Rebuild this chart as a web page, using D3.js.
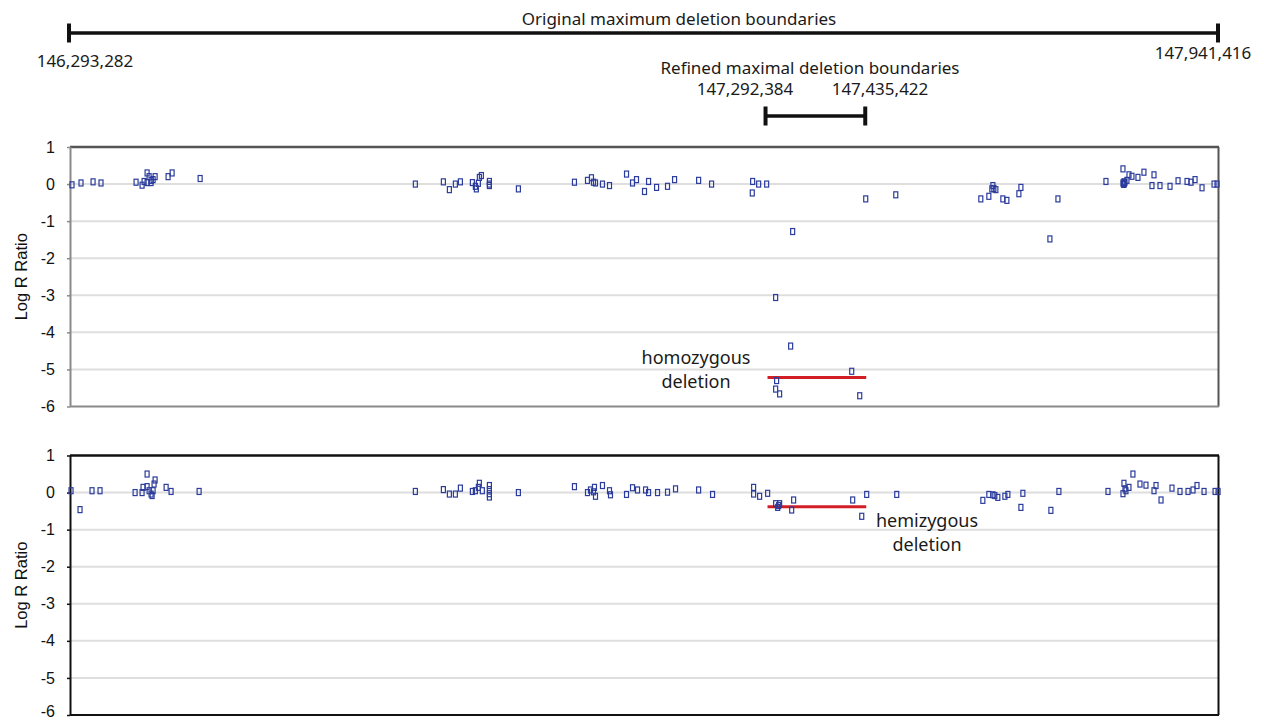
<!DOCTYPE html>
<html><head><meta charset="utf-8">
<script src="https://cdn.jsdelivr.net/npm/d3@7"></script>
<style>body{margin:0;background:#fff}</style>
</head><body>
<svg id="c" width="1264" height="723"></svg>
<script>
// Genomic range (bp)
const originalBounds = [146293282, 147941416];
const refinedBounds = [147292384, 147435422];
const yTicks = [1, 0, -1, -2, -3, -4, -5, -6];

// Top sample: positions (Mb) and Log R Ratio
const topPos = [146.2976,146.3105,146.3278,146.3392,146.3895,146.3981,146.4010,146.4053,146.4053,146.4082,146.4110,146.4110,146.4139,146.4168,146.4354,146.4412,146.4814,
146.7901,146.8303,146.8389,146.8475,146.8547,146.8719,146.8762,146.8776,146.8805,146.8819,146.8848,146.8963,146.8963,146.8963,146.9379,
147.0183,147.0370,147.0427,147.0456,147.0485,147.0585,147.0686,147.0930,147.1016,147.1073,147.1188,147.1246,147.1361,147.1518,147.1619,147.1964,147.2150,
147.2739,147.2734,147.2825,147.2940,147.3069,147.3083,147.3069,147.3126,147.3284,147.3313,147.4160,147.4275,147.4361,147.4792,
147.6012,147.6127,147.6170,147.6185,147.6199,147.6228,147.6328,147.6386,147.6558,147.6587,147.7003,147.7118,
147.7807,147.8051,147.8051,147.8065,147.8080,147.8108,147.8137,147.8180,147.8266,147.8352,147.8467,147.8496,147.8582,147.8726,147.8841,147.8970,147.9027,147.9085,147.9185,147.9357,147.9400,
147.8058,147.8072,147.8065];
const topLRR = [-0.02,0.03,0.06,0.03,0.05,-0.03,0.07,0.30,0.04,0.20,0.04,0.10,0.12,0.20,0.20,0.30,0.15,
0.00,0.06,-0.15,0.00,0.06,0.04,-0.06,-0.13,0.02,0.18,0.23,0.07,0.00,-0.04,-0.13,
0.05,0.10,0.17,0.05,0.03,0.00,-0.04,0.27,0.03,0.12,-0.20,0.07,-0.09,-0.06,0.12,0.10,0.00,
0.07,-0.24,0.00,0.00,-3.06,-5.30,-5.53,-5.66,-4.37,-1.28,-5.05,-5.71,-0.40,-0.29,
-0.40,-0.33,-0.13,-0.04,-0.12,-0.15,-0.40,-0.44,-0.26,-0.09,-1.48,-0.40,
0.07,0.41,0.03,-0.01,0.05,0.10,0.25,0.21,0.18,0.32,-0.04,0.25,-0.04,-0.06,0.09,0.07,0.05,0.12,-0.10,0.00,0.00,
0.00,0.02,0.06];

// Bottom sample
const botPos = [146.2962,146.3091,146.3263,146.3378,146.3881,146.3981,146.3995,146.4053,146.4053,146.4082,146.4110,146.4125,146.4139,146.4153,146.4168,146.4326,146.4397,146.4799,
146.7901,146.8303,146.8389,146.8475,146.8547,146.8719,146.8762,146.8805,146.8819,146.8862,146.8963,146.8963,146.8963,146.8963,146.9379,
147.0183,147.0370,147.0413,147.0456,147.0470,147.0485,147.0585,147.0686,147.0700,147.0930,147.1016,147.1088,147.1203,147.1246,147.1375,147.1518,147.1633,147.1964,147.2164,
147.2753,147.2753,147.2839,147.2954,147.3069,147.3098,147.3112,147.3126,147.3299,147.3327,147.4174,147.4304,147.4375,147.4806,
147.6041,147.6127,147.6185,147.6213,147.6256,147.6357,147.6400,147.6615,147.6587,147.7017,147.7132,
147.7836,147.8051,147.8065,147.8080,147.8094,147.8137,147.8194,147.8295,147.8381,147.8496,147.8525,147.8597,147.8754,147.8869,147.8984,147.9056,147.9113,147.9214,147.9372,147.9415];
const botLRR = [0.05,-0.46,0.05,0.05,0.00,0.00,0.14,0.50,0.16,0.05,-0.04,-0.08,0.05,0.23,0.34,0.14,0.03,0.03,
0.03,0.08,-0.04,-0.04,0.12,0.03,0.05,0.14,0.25,0.05,0.19,0.08,-0.03,-0.12,0.00,
0.16,0.00,0.07,0.02,0.14,-0.10,0.19,0.05,-0.06,-0.05,0.13,0.07,0.07,0.00,0.00,0.01,0.10,0.07,-0.05,
0.14,-0.04,-0.10,-0.02,-0.30,-0.40,-0.35,-0.30,-0.47,-0.20,-0.20,-0.64,-0.05,-0.05,
-0.21,-0.05,-0.06,-0.08,-0.13,-0.10,-0.05,-0.02,-0.40,-0.48,0.03,
0.03,-0.03,0.25,0.10,0.05,0.14,0.50,0.23,0.20,0.05,0.19,-0.20,0.12,0.03,0.03,0.07,0.19,0.03,0.03,0.03];

// Deletion segments (LRR level)
const homoLevel = -5.22;
const hemiLevel = -0.38;

const svg = d3.select("#c");
const myriad = "'Noto Sans', 'Open Sans', sans-serif";
const arial = "'Liberation Sans', Arial, sans-serif";

const x = d3.scaleLinear().domain(originalBounds.map(d => d / 1e6)).range([69, 1218]);
const fmt = d3.format(",");

// Rulers
function ruler(b, y, h) {
  const g = svg.append("g");
  g.append("line").attr("x1", x(b[0] / 1e6)).attr("x2", x(b[1] / 1e6)).attr("y1", y).attr("y2", y)
    .attr("stroke", "#111").attr("stroke-width", 3.5);
  b.forEach(v => g.append("line").attr("x1", x(v / 1e6)).attr("x2", x(v / 1e6))
    .attr("y1", y - h / 2).attr("y2", y + h / 2).attr("stroke", "#111").attr("stroke-width", 4));
}
ruler(originalBounds, 33, 19);
ruler(refinedBounds, 116, 19);

function label(tx, ty, s, size) {
  svg.append("text").attr("x", tx).attr("y", ty).attr("text-anchor", "middle")
    .attr("font-family", myriad).attr("font-size", size).attr("fill", "#1a1a1a").text(s);
}
label(679, 25, "Original maximum deletion boundaries", 17);
label(85, 67, fmt(originalBounds[0]), 17);
label(1203, 59, fmt(originalBounds[1]), 17);
label(810, 74, "Refined maximal deletion boundaries", 17);
label(745, 95, fmt(refinedBounds[0]), 17);
label(880, 95, fmt(refinedBounds[1]), 17);

function panel(top, bottom, pos, lrr, level, frameColor, axisColor) {
  const y = d3.scaleLinear().domain([-6, 1]).range([bottom, top]);
  const g = svg.append("g");
  // gridlines
  g.selectAll("line.grid").data(yTicks.filter(t => t < 1 && t > -6)).join("line")
    .attr("x1", 71).attr("x2", 1218).attr("y1", d => y(d)).attr("y2", d => y(d))
    .attr("stroke", "#dedede").attr("stroke-width", 2);
  // axis
  const ax = g.append("g").attr("transform", "translate(70,0)")
    .call(d3.axisLeft(y).tickValues(yTicks).tickSize(3).tickPadding(12).tickFormat(d => String(d)));
  ax.select(".domain").remove();
  ax.selectAll("line").attr("stroke", axisColor).attr("stroke-width", 1.5);
  ax.selectAll("text").attr("font-family", arial).attr("font-size", 16).attr("fill", "#111");
  // keep lowest label inside the page
  ax.selectAll("text").filter(d => d === -6 && bottom > 712).attr("dy", "0.1em");
  // frame
  g.append("line").attr("x1", 70).attr("x2", 1219).attr("y1", top).attr("y2", top).attr("stroke", frameColor).attr("stroke-width", 2.5);
  g.append("line").attr("x1", 1218.5).attr("x2", 1218.5).attr("y1", top).attr("y2", bottom).attr("stroke", frameColor).attr("stroke-width", 2);
  g.append("line").attr("x1", 70).attr("x2", 1219).attr("y1", bottom).attr("y2", bottom).attr("stroke", axisColor).attr("stroke-width", 2);
  g.append("line").attr("x1", 70.5).attr("x2", 70.5).attr("y1", top).attr("y2", bottom).attr("stroke", axisColor).attr("stroke-width", 2);
  // axis title
  g.append("text").attr("transform", `translate(27,${(top + bottom) / 2}) rotate(-90)`)
    .attr("text-anchor", "middle").attr("font-family", arial).attr("font-size", 16.5).attr("fill", "#111").text("Log R Ratio");
  // deletion segment
  g.append("line").attr("x1", x(refinedBounds[0] / 1e6) + 2).attr("x2", x(refinedBounds[1] / 1e6) + 1)
    .attr("y1", y(level)).attr("y2", y(level)).attr("stroke", "#d21f26").attr("stroke-width", 3);
  // points
  g.selectAll("rect.pt").data(pos.map((p, i) => [p, lrr[i]])).join("rect")
    .attr("x", d => x(d[0]) - 2).attr("y", d => y(d[1]) - 3).attr("width", 4).attr("height", 6)
    .attr("fill", "none").attr("stroke", "#2c3c9c").attr("stroke-width", 1.2);
  return y;
}

panel(147, 406.5, topPos, topLRR, homoLevel, "#555", "#8a8a8a");
panel(455.5, 715, botPos, botLRR, hemiLevel, "#111", "#111");

label(696, 364, "homozygous", 18);
label(696, 388, "deletion", 18);
label(927, 527, "hemizygous", 18);
label(927, 551, "deletion", 18);
</script>
</body></html>
